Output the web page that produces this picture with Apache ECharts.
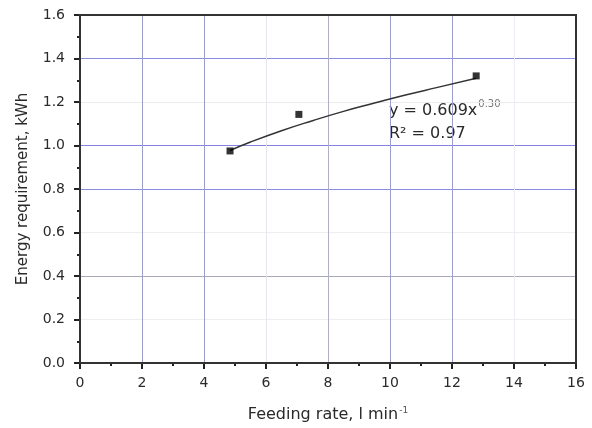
<!DOCTYPE html>
<html>
<head>
<meta charset="utf-8">
<script src="https://cdn.jsdelivr.net/npm/echarts@6/dist/echarts.min.js"></script>
<style>
  html, body { margin: 0; padding: 0; background: #fff; }
  #chart { width: 592px; height: 428px; }
</style>
</head>
<body>
<div id="chart"></div>
<script>
// measured points
const feedRate = [4.84, 7.06, 12.78];
const energy = [0.975, 1.143, 1.32];
// fitted curve
const fitX = [4.84, 5.5, 6.5, 7.5, 8.5, 9.5, 10.5, 11.5, 12.78];
const fitY = [0.977, 1.016, 1.068, 1.114, 1.157, 1.195, 1.232, 1.266, 1.309];

const xTicks = [0, 2, 4, 6, 8, 10, 12, 14, 16];
const yTicks = [0.0, 0.2, 0.4, 0.6, 0.8, 1.0, 1.2, 1.4, 1.6];

let myChart = echarts.init(document.getElementById("chart"));

const font = "DejaVu Sans";
const axisText = { color: "#2a2a2a", fontSize: 14, fontFamily: font };

myChart.setOption({
  animation: false,
  grid: { left: 80, right: 16, top: 15, bottom: 65 },
  xAxis: {
    type: "value",
    min: xTicks[0],
    max: xTicks[xTicks.length - 1],
    interval: 2,
    name: "Feeding rate, l min{sup|-1}",
    nameLocation: "middle",
    nameGap: 43,
    nameTextStyle: {
      color: "#2a2a2a",
      fontSize: 16,
      fontFamily: font,
      rich: { sup: { fontSize: 9, fontFamily: font, color: "#555", verticalAlign: "top", padding: [0, 0, 9, 1] } },
    },
    axisLine: { show: true, lineStyle: { color: "#222", width: 2 } },
    axisTick: { show: true, inside: false, length: 6, lineStyle: { color: "#222", width: 2 } },
    minorTick: { show: true, splitNumber: 2, length: 3, lineStyle: { color: "#222", width: 2 } },
    axisLabel: { ...axisText, margin: 13 },
    splitLine: {
      show: true,
      lineStyle: {
        color: ["#fff", "#9c9cc8", "#9c9cc8", "#e6e6ee", "#aeaec4", "#9c9cd0", "#9c9cd0", "#ececf2", "#fff"],
        width: 1,
      },
    },
  },
  yAxis: {
    type: "value",
    min: yTicks[0],
    max: yTicks[yTicks.length - 1],
    interval: 0.2,
    name: "Energy requirement, kWh",
    nameLocation: "middle",
    nameGap: 49,
    nameTextStyle: { color: "#2a2a2a", fontSize: 15, fontFamily: font },
    axisLine: { show: true, lineStyle: { color: "#222", width: 2 } },
    axisTick: { show: true, inside: false, length: 6, lineStyle: { color: "#222", width: 2 } },
    minorTick: { show: true, splitNumber: 2, length: 3, lineStyle: { color: "#222", width: 2 } },
    axisLabel: { ...axisText, margin: 15, formatter: (v) => v.toFixed(1) },
    splitLine: {
      show: true,
      lineStyle: {
        color: ["#fff", "#eeeeee", "#a8a8bc", "#eeeeee", "#8c8ce0", "#8484e0", "#ececf0", "#8c8ce0", "#fff"],
        width: 1,
      },
    },
  },
  graphic: [
    {
      type: "rect",
      shape: { x: 80, y: 15, width: 496, height: 348 },
      style: { fill: "none", stroke: "#333", lineWidth: 2 },
      silent: true,
      z: 10,
    },
    {
      type: "text",
      left: 389,
      top: 99,
      style: {
        text: "y = 0.609x{sup|0.30}\nR² = 0.97",
        fill: "#2a2a2a",
        fontSize: 16,
        fontFamily: font,
        lineHeight: 23,
        rich: { sup: { fontSize: 10, fontFamily: font, fill: "#777", verticalAlign: "top", padding: [0, 0, 9, 1] } },
      },
    },
  ],
  series: [
    {
      name: "fit",
      type: "line",
      data: fitX.map((x, i) => [x, fitY[i]]),
      smooth: true,
      showSymbol: false,
      lineStyle: { color: "#333", width: 1.5 },
      z: 2,
    },
    {
      name: "measured",
      type: "scatter",
      data: feedRate.map((x, i) => [x, energy[i]]),
      symbol: "rect",
      symbolSize: 7,
      itemStyle: { color: "#000" },
      z: 3,
    },
  ],
});
</script>
</body>
</html>
